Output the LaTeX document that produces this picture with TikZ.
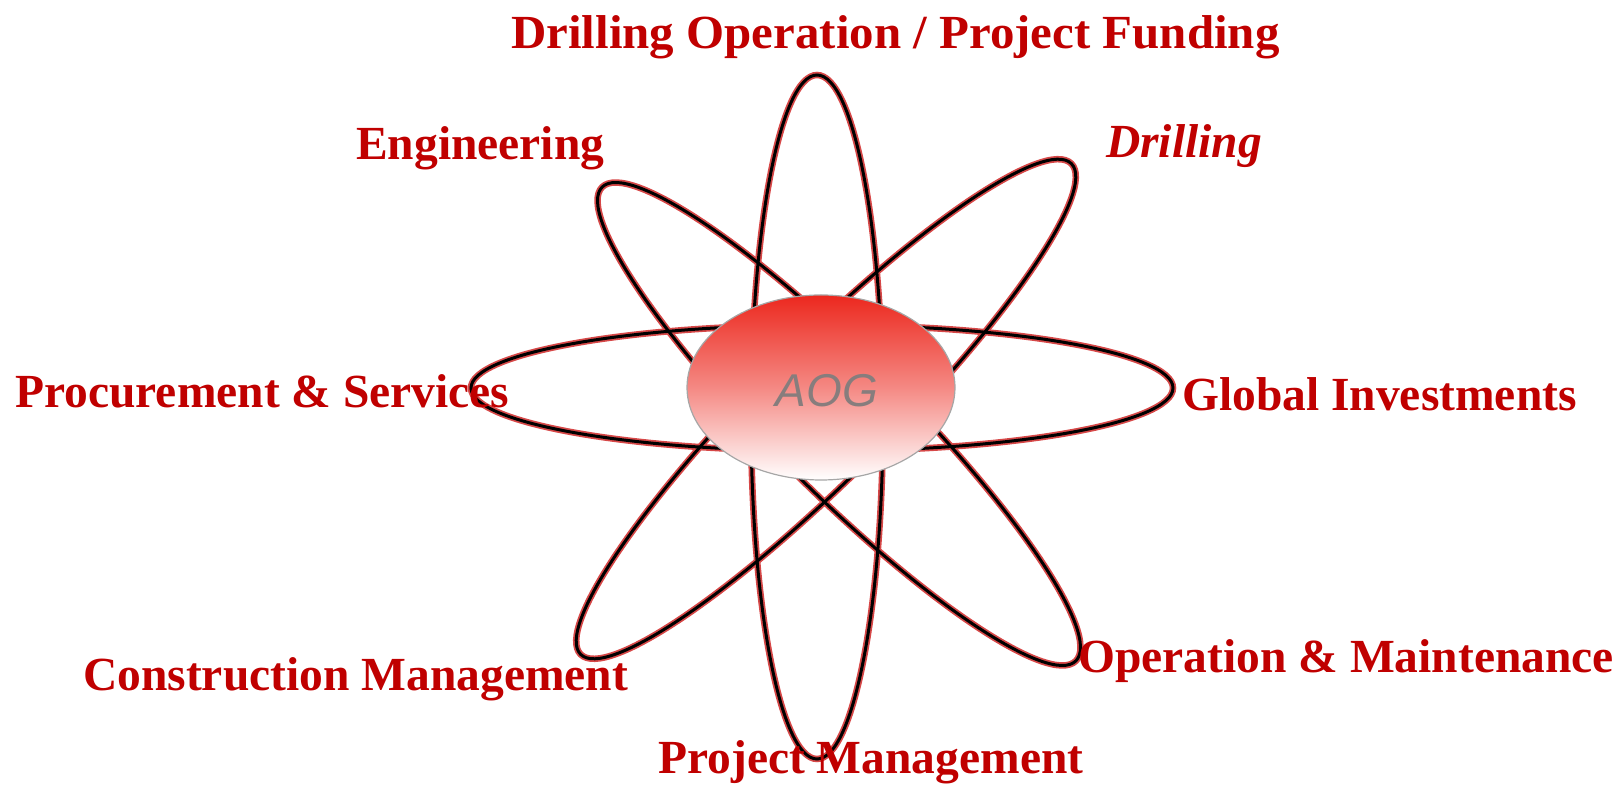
\documentclass[tikz,border=0pt]{standalone}
\usepackage{fontspec}
\setmainfont{Liberation Serif}
\newfontfamily\coresans{Liberation Sans}
\usetikzlibrary{shapes.geometric}
\definecolor{fieldred}{RGB}{192,0,0}
\definecolor{halored}{RGB}{214,72,72}
\definecolor{corered}{RGB}{236,40,30}
\definecolor{coregray}{RGB}{135,125,125}
\tikzstyle{field} = [anchor=base west, inner sep=0pt, text=fieldred, font=\fontsize{47.5}{56}\selectfont\bfseries]
\tikzstyle{orbithalo} = [draw=halored, line width=6.5pt]
\tikzstyle{orbit} = [draw=black, line width=3pt]
\tikzstyle{core} = [ellipse, draw=gray!70, line width=1.2pt, minimum width=268pt, minimum height=185pt, inner sep=0pt, top color=corered, bottom color=white, middle color=corered!55!white]
\tikzstyle{coretext} = [text=coregray, font=\coresans\itshape\fontsize{46}{54}\selectfont]

\begin{document}
\begin{tikzpicture}[x=1pt, y=1pt]
    \useasboundingbox (0,0) rectangle (1618,786);
    % orbits: red halo first, black line on top
    \foreach \cx/\cy/\ang/\rx/\ry in {817/369/90/342/66, 822/398/0/351/63, 839/362/-45/335/66, 826/377/45/347/66}
        \draw[orbithalo, rotate around={\ang:(\cx,\cy)}] (\cx,\cy) ellipse [x radius=\rx, y radius=\ry];
    \foreach \cx/\cy/\ang/\rx/\ry in {817/369/90/342/66, 822/398/0/351/63, 839/362/-45/335/66, 826/377/45/347/66}
        \draw[orbit, rotate around={\ang:(\cx,\cy)}] (\cx,\cy) ellipse [x radius=\rx, y radius=\ry];

    \node (core) [core] at (821,398.5) {};
    \node (aog) [coretext] at (827,395) {AOG};

    \node (funding) [field, xscale=1.03] at (511,737) {Drilling Operation / Project Funding};
    \node (engineering) [field] at (356,626) {Engineering};
    \node (drilling) [field] at (1106,628) {\itshape Drilling};
    \node (procurement) [field] at (15,378) {Procurement \& Services};
    \node (investments) [field] at (1182,375) {Global Investments};
    \node (construction) [field] at (83,95) {Construction Management};
    \node (maintenance) [field] at (1078,113) {Operation \& Maintenance};
    \node (projectmgmt) [field] at (658,12) {Project Management};
\end{tikzpicture}
\end{document}
